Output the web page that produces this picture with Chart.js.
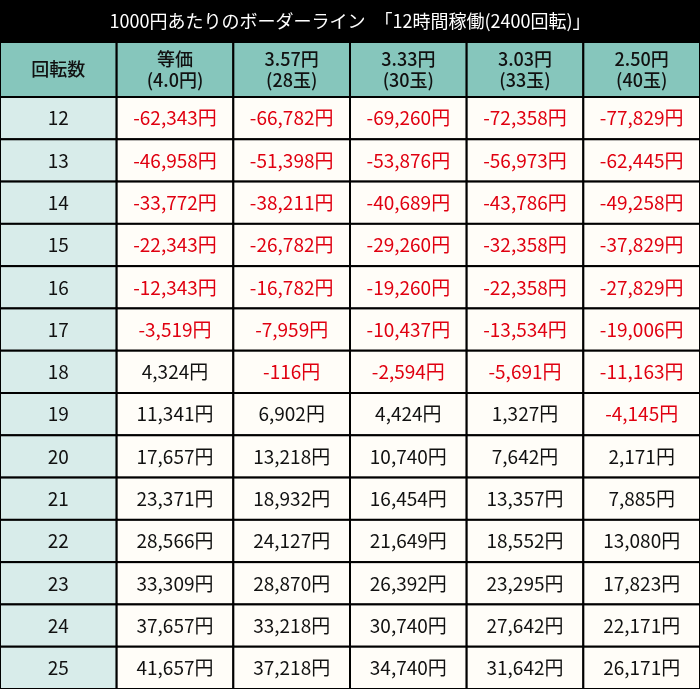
<!DOCTYPE html>
<html>
<head>
<meta charset="utf-8">
<script src="https://cdn.jsdelivr.net/npm/chart.js@4/dist/chart.umd.min.js"></script>
<style>
html, body { margin: 0; padding: 0; background: #000; }
#wrap { width: 700px; height: 689px; }
</style>
</head>
<body>
<div id="wrap"><canvas id="table"></canvas></div>
<script>
const titleText = "1000円あたりのボーダーライン　「12時間稼働(2400回転)」";
const columns = ["回転数", "等価\n(4.0円)", "3.57円\n(28玉)", "3.33円\n(30玉)", "3.03円\n(33玉)", "2.50円\n(40玉)"];
const spins = ["12", "13", "14", "15", "16", "17", "18", "19", "20", "21", "22", "23", "24", "25"];
const rate40 = [-62343, -46958, -33772, -22343, -12343, -3519, 4324, 11341, 17657, 23371, 28566, 33309, 37657, 41657];
const rate357 = [-66782, -51398, -38211, -26782, -16782, -7959, -116, 6902, 13218, 18932, 24127, 28870, 33218, 37218];
const rate333 = [-69260, -53876, -40689, -29260, -19260, -10437, -2594, 4424, 10740, 16454, 21649, 26392, 30740, 34740];
const rate303 = [-72358, -56973, -43786, -32358, -22358, -13534, -5691, 1327, 7642, 13357, 18552, 23295, 27642, 31642];
const rate250 = [-77829, -62445, -49258, -37829, -27829, -19006, -11163, -4145, 2171, 7885, 13080, 17823, 22171, 26171];
const series = [rate40, rate357, rate333, rate303, rate250];

const FONT = '"Noto Sans CJK JP", "Noto Sans", sans-serif';

const tablePlugin = {
    id: 'tablePlugin',
    afterDraw(chart) {
        const ctx = chart.ctx;
        const xs = chart.scales.x;
        const ys = chart.scales.y;
        const area = chart.chartArea;
        const cw = xs.getPixelForValue(1) - xs.getPixelForValue(0);
        const rh = ys.getPixelForValue(1) - ys.getPixelForValue(0);
        const headTop = 42;
        ctx.save();
        ctx.fillStyle = '#000';
        ctx.fillRect(0, 0, chart.width, headTop);
        ctx.fillStyle = '#fff';
        ctx.font = '18px ' + FONT;
        ctx.textAlign = 'center';
        ctx.textBaseline = 'middle';
        ctx.fillText(titleText, chart.width / 2, headTop / 2);

        // header row
        columns.forEach((c, i) => {
            const x0 = xs.getPixelForValue(i) - cw / 2;
            ctx.fillStyle = '#86c6bc';
            ctx.fillRect(x0, headTop, cw, area.top - headTop);
            ctx.strokeStyle = '#000';
            ctx.lineWidth = 2;
            ctx.strokeRect(x0, headTop, cw, area.top - headTop);
            ctx.fillStyle = '#111';
            ctx.font = '500 18px ' + FONT;
            const lines = c.split('\n');
            const mid = (headTop + area.top) / 2;
            lines.forEach((l, k) => {
                ctx.fillText(l, x0 + cw / 2, mid + (k - (lines.length - 1) / 2) * 21);
            });
        });

        // body
        spins.forEach((s, r) => {
            const yc = ys.getPixelForValue(r);
            const y0 = yc - rh / 2;
            for (let i = 0; i < columns.length; i++) {
                const xc = xs.getPixelForValue(i);
                const x0 = xc - cw / 2;
                ctx.fillStyle = i === 0 ? '#d8ecea' : '#fffdf8';
                ctx.fillRect(x0, y0, cw, rh);
                ctx.strokeStyle = '#000';
                ctx.lineWidth = 2;
                ctx.strokeRect(x0, y0, cw, rh);
                ctx.font = '19px ' + FONT;
                if (i === 0) {
                    ctx.fillStyle = '#111';
                    ctx.fillText(s, xc, yc);
                } else {
                    const v = series[i - 1][r];
                    ctx.fillStyle = v < 0 ? '#e00010' : '#111';
                    ctx.fillText(v.toLocaleString('en-US') + '円', xc, yc);
                }
            }
        });
        ctx.restore();
    }
};

new Chart(document.getElementById('table'), {
    type: 'scatter',
    data: { datasets: [] },
    options: {
        responsive: true,
        maintainAspectRatio: false,
        animation: false,
        layout: { padding: { top: 97, left: 0, right: 0, bottom: 0 } },
        plugins: { legend: { display: false }, tooltip: { enabled: false } },
        scales: {
            x: { type: 'category', labels: columns, offset: true, display: false },
            y: { type: 'category', labels: spins, offset: true, display: false }
        }
    },
    plugins: [tablePlugin]
});
</script>
</body>
</html>
